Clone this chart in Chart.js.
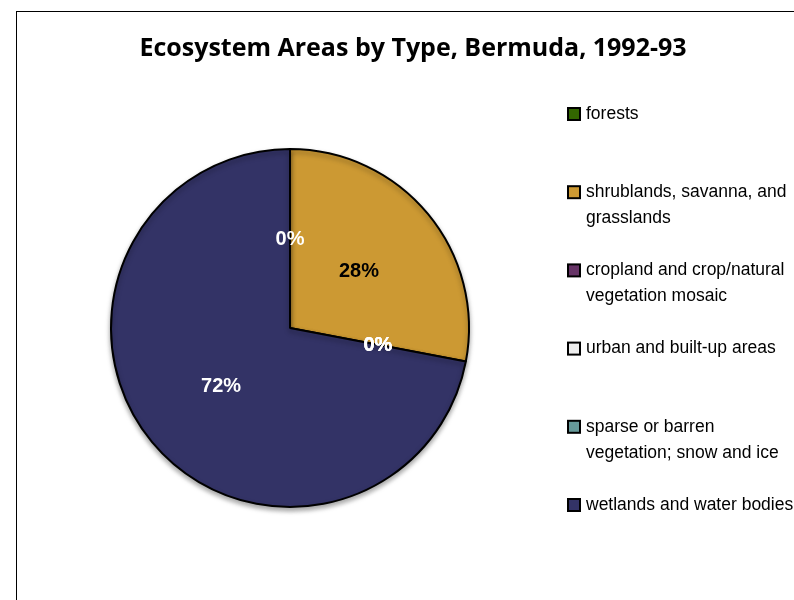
<!DOCTYPE html>
<html>
<head>
<meta charset="utf-8">
<script src="https://cdn.jsdelivr.net/npm/chart.js@4"></script>
<style>
  html, body { margin: 0; padding: 0; background: #fff; overflow: hidden; }
  #wrap { width: 794px; height: 600px; }
</style>
</head>
<body>
<div id="wrap"><canvas id="pie" width="794" height="600"></canvas></div>
<script>
// chart data
const chartTitle = "Ecosystem Areas by Type, Bermuda, 1992-93";
const categories = [
    ["forests"],
    ["shrublands, savanna, and", "grasslands"],
    ["cropland and crop/natural", "vegetation mosaic"],
    ["urban and built-up areas"],
    ["sparse or barren", "vegetation; snow and ice"],
    ["wetlands and water bodies"]
];
const shares = [0, 28, 0, 0, 0, 72];

const sliceColors = ["#336600", "#CC9933", "#663366", "#EEEEEE", "#669999", "#333366"];
const labelColors = ["#fff", "#000", "#fff", "#fff", "#fff", "#fff"];

// frame, title and the legend on the right
const decorPlugin = {
    id: "decor",
    beforeDraw(chart) {
        const ctx = chart.ctx;
        ctx.save();
        ctx.strokeStyle = "#000";
        ctx.lineWidth = 1;
        ctx.strokeRect(16.5, 11.5, 900, 900);
        ctx.fillStyle = "#000";
        ctx.font = "bold 25px 'Open Sans'";
        ctx.textAlign = "center";
        ctx.textBaseline = "middle";
        ctx.fillText(chartTitle, 413, 49);
        ctx.restore();
    },
    afterDraw(chart) {
        const ctx = chart.ctx;
        ctx.save();
        ctx.font = "17.5px 'Liberation Sans'";
        ctx.textAlign = "left";
        ctx.textBaseline = "middle";
        categories.forEach((lines, i) => {
            const y = 114 + i * 78.2;
            ctx.fillStyle = sliceColors[i];
            ctx.fillRect(568, y - 6, 12, 12);
            ctx.strokeStyle = "#000";
            ctx.lineWidth = 2;
            ctx.strokeRect(568, y - 6, 12, 12);
            ctx.fillStyle = "#000";
            lines.forEach((t, j) => ctx.fillText(t, 586, y + j * 26));
        });
        ctx.restore();
    }
};

// soft shadow under the pie
const shadowPlugin = {
    id: "pieShadow",
    beforeDatasetsDraw(chart) {
        const ctx = chart.ctx;
        ctx.save();
        ctx.shadowColor = "rgba(0,0,0,0.35)";
        ctx.shadowBlur = 5;
        ctx.shadowOffsetY = 3;
    },
    afterDatasetsDraw(chart) {
        chart.ctx.restore();
    }
};

// percentage labels at half radius
const pctPlugin = {
    id: "pct",
    afterDatasetsDraw(chart) {
        const ctx = chart.ctx;
        const meta = chart.getDatasetMeta(0);
        const total = shares.reduce((a, b) => a + b, 0);
        ctx.save();
        ctx.font = "bold 20px 'Liberation Sans'";
        ctx.textAlign = "center";
        ctx.textBaseline = "middle";
        meta.data.forEach((arc, i) => {
            const p = arc.getProps(["x", "y", "startAngle", "endAngle", "outerRadius"], true);
            const mid = (p.startAngle + p.endAngle) / 2;
            const r = p.outerRadius * 0.5;
            ctx.fillStyle = labelColors[i];
            ctx.fillText(Math.round(shares[i] / total * 100) + "%",
                p.x + Math.cos(mid) * r, p.y + Math.sin(mid) * r + 1);
        });
        ctx.restore();
    }
};

new Chart(document.getElementById("pie"), {
    type: "pie",
    data: {
        labels: categories,
        datasets: [{
            data: shares,
            backgroundColor: sliceColors,
            borderColor: "#000",
            borderWidth: 2
        }]
    },
    options: {
        responsive: false,
        animation: false,
        layout: { padding: { left: 110, top: 148, right: 324, bottom: 92 } },
        plugins: {
            legend: { display: false },
            title: { display: false },
            tooltip: { enabled: false }
        }
    },
    plugins: [decorPlugin, shadowPlugin, pctPlugin]
});
</script>
</body>
</html>
